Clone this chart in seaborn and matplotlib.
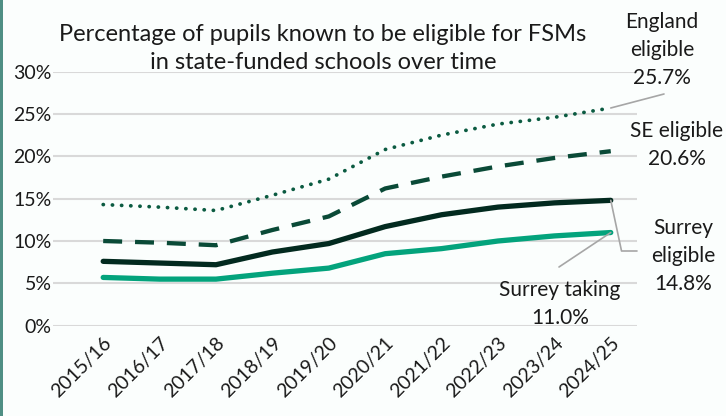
import matplotlib
matplotlib.use("Agg")
import matplotlib.pyplot as plt
import seaborn as sns
import pandas as pd

years = ["2015/16", "2016/17", "2017/18", "2018/19", "2019/20",
         "2020/21", "2021/22", "2022/23", "2023/24", "2024/25"]
england_eligible = [14.3, 14.0, 13.6, 15.4, 17.3, 20.8, 22.5, 23.8, 24.6, 25.7]
se_eligible = [10.0, 9.8, 9.5, 11.3, 12.9, 16.2, 17.6, 18.8, 19.8, 20.6]
surrey_eligible = [7.6, 7.4, 7.2, 8.7, 9.7, 11.7, 13.1, 14.0, 14.5, 14.8]
surrey_taking = [5.7, 5.5, 5.5, 6.2, 6.8, 8.5, 9.1, 10.0, 10.6, 11.0]
y_ticks = [0, 5, 10, 15, 20, 25, 30]

sns.set_theme(style="white")
plt.rcParams["font.family"] = ["Lato", "DejaVu Sans"]

bg = "#fbfefd"
fig = plt.figure(figsize=(7.26, 4.16), dpi=100, facecolor=bg)
ax = fig.add_axes([0.073, 0.217, 0.804, 0.611])
ax.set_facecolor(bg)

pos = list(range(len(years)))
df = pd.DataFrame({
    "pos": pos,
    "England": england_eligible,
    "SE": se_eligible,
    "SurreyElig": surrey_eligible,
    "SurreyTake": surrey_taking,
})

sns.lineplot(data=df, x="pos", y="England", ax=ax, color="#0b5b41",
             lw=2.7, linestyle=(0, (0.05, 2.4)), dash_capstyle="round",
             solid_capstyle="round")
sns.lineplot(data=df, x="pos", y="SE", ax=ax, color="#0a4a37",
             lw=3.1, linestyle=(0, (4.4, 3.0)))
sns.lineplot(data=df, x="pos", y="SurreyElig", ax=ax, color="#022a1f",
             lw=3.8, solid_capstyle="round")
sns.lineplot(data=df, x="pos", y="SurreyTake", ax=ax, color="#03a37c",
             lw=3.8, solid_capstyle="round")

ax.set_xlim(-0.89, 9.46)
ax.set_ylim(0, 30)
ax.set_yticks(y_ticks)
ax.set_yticklabels([f"{v}%" for v in y_ticks], fontsize=14, color="#1a1a1a")
ax.set_xticks(pos)
ax.set_xticklabels(years, rotation=45, ha="right", rotation_mode="anchor",
                   fontsize=14, color="#1a1a1a")
ax.tick_params(axis="both", length=0)
ax.tick_params(axis="y", pad=1)
ax.tick_params(axis="x", pad=6)
ax.set_xlabel("")
ax.set_ylabel("")
ax.yaxis.grid(True, color="#d9d9d9", lw=1.5)
ax.set_axisbelow(True)
for s in ax.spines.values():
    s.set_visible(False)

fig.text(0.445, 0.883, "Percentage of pupils known to be eligible for FSMs\nin state-funded schools over time",
         ha="center", va="center", fontsize=17, color="#1a1a1a", linespacing=1.4)

lbl = dict(fontsize=15, color="#1a1a1a", ha="center", va="center",
           linespacing=1.5, annotation_clip=False)
lead = dict(arrowstyle="-", color="#a6a6a6", lw=1.2, shrinkA=0, shrinkB=0)
last = pos[-1]

ax.annotate(f"England\neligible\n{england_eligible[-1]:.1f}%",
            xy=(last, england_eligible[-1]), xycoords="data",
            xytext=(662, 416 - 50), textcoords="figure pixels",
            **lbl)
ax.annotate("", xy=(last, england_eligible[-1]),
            xytext=(664, 416 - 94), textcoords="figure pixels",
            arrowprops=lead, annotation_clip=False)

ax.annotate(f"SE eligible\n{se_eligible[-1]:.1f}%",
            xy=(last, se_eligible[-1]),
            xytext=(677, 416 - 145), textcoords="figure pixels", **lbl)

ax.annotate(f"Surrey\neligible\n{surrey_eligible[-1]:.1f}%",
            xy=(last, surrey_eligible[-1]),
            xytext=(683, 416 - 256), textcoords="figure pixels", **lbl)
ax.annotate("", xy=(last, surrey_eligible[-1]),
            xytext=(637, 416 - 251), textcoords="figure pixels",
            arrowprops=dict(lead, connectionstyle="angle,angleA=0,angleB=-78,rad=0"),
            annotation_clip=False)

ax.annotate(f"Surrey taking\n{surrey_taking[-1]:.1f}%",
            xy=(last, surrey_taking[-1]),
            xytext=(560, 416 - 304), textcoords="figure pixels", **lbl)
ax.annotate("", xy=(last, surrey_taking[-1]),
            xytext=(559, 416 - 267), textcoords="figure pixels",
            arrowprops=lead, annotation_clip=False)

# thin teal edge along the left side
fig.patches.append(plt.Rectangle((0, 0), 3 / 726, 1, transform=fig.transFigure,
                                 facecolor="#4f8f84", edgecolor="none"))

fig.savefig("out.png", dpi=100, facecolor=bg)
